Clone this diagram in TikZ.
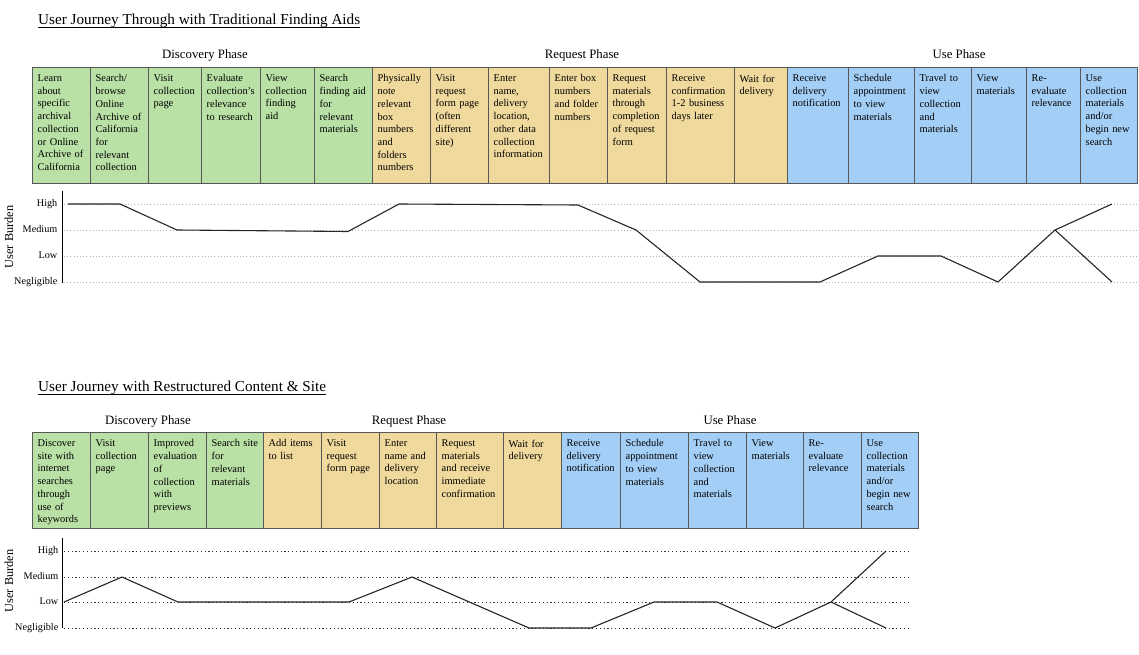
\documentclass[tikz,border=0pt]{standalone}
\usepackage{fontspec}
\setmainfont{Liberation Serif}
\usetikzlibrary{calc}
\definecolor{cgreen}{RGB}{185,224,165}
\definecolor{cyellow}{RGB}{240,217,156}
\definecolor{cblue}{RGB}{163,206,246}
\definecolor{cborder}{RGB}{88,88,88}
\definecolor{gridgray}{RGB}{175,175,175}
\newcommand\jcellfont{\fontsize{10.4}{12.7}\selectfont}
\tikzset{
  cellbox/.style={draw=cborder, line width=0.9pt, inner sep=0pt, outer sep=0pt},
  celltext/.style={inner sep=0pt, align=left, font=\jcellfont, anchor=north west},
  phaselabel/.style={inner sep=0pt, anchor=base, font=\fontsize{12.8}{14}\selectfont},
  titletext/.style={inner sep=0pt, anchor=base west, font=\fontsize{15.2}{17}\selectfont},
  levellabel/.style={inner sep=0pt, anchor=mid east, font=\fontsize{10.2}{11}\selectfont},
  burdenlabel/.style={inner sep=0pt, rotate=90, font=\fontsize{12.3}{13}\selectfont},
  axisline/.style={line width=0.9pt, black},
  gridtop/.style={gridgray, line width=0.9pt, dash pattern=on 1pt off 2.2pt},
  gridbot/.style={black!80, line width=0.9pt, dash pattern=on 1.2pt off 2.6pt},
  burden/.style={line width=1.1pt, black!85, line join=round},
}
\newcommand\jcell[7]{%
  \pgfmathsetmacro\jw{#3-#2}\pgfmathsetmacro\jh{#5-#4}\pgfmathsetmacro\jtw{#3-#2-7}%
  \node[cellbox,fill=#6,minimum width=\jw pt,minimum height=\jh pt,anchor=north west] (#1) at (#2,#4) {};
  \node[celltext,text width=\jtw pt] (#1t) at (#2+5.5,#4+7.5) {#7};
}
\begin{document}
\begin{tikzpicture}[x=1pt,y=-1pt]
\useasboundingbox[fill=white] (0,0) rectangle (1139,655);

% ---------- Top section ----------
\node[titletext] (title1) at (38,25) {User Journey Through with Traditional Finding Aids};
\draw[line width=0.8pt] ([yshift=-2.5pt]title1.base west) -- ([yshift=-2.5pt]title1.base east);

\node[phaselabel] (ph1) at (205,59) {Discovery Phase};
\node[phaselabel] (ph2) at (582,59) {Request Phase};
\node[phaselabel] (ph3) at (959,59) {Use Phase};

\jcell{a1}{32}{90}{67}{183}{cgreen}{Learn\\about\\specific\\archival\\collection\\or Online\\Archive of\\California}
\jcell{a2}{90}{148}{67}{183}{cgreen}{Search/\\browse\\Online\\Archive of\\California\\for\\relevant\\collection}
\jcell{a3}{148}{201}{67}{183}{cgreen}{Visit\\collection\\page}
\jcell{a4}{201}{260}{67}{183}{cgreen}{Evaluate\\collection’s\\relevance\\to research}
\jcell{a5}{260}{314}{67}{183}{cgreen}{View\\collection\\finding\\aid}
\jcell{a6}{314}{372}{67}{183}{cgreen}{Search\\finding aid\\for\\relevant\\materials}
\jcell{a7}{372}{430}{67}{183}{cyellow}{Physically\\note\\relevant\\box\\numbers\\and\\folders\\numbers}
\jcell{a8}{430}{488}{67}{183}{cyellow}{Visit\\request\\form page\\(often\\different\\site)}
\jcell{a9}{488}{549}{67}{183}{cyellow}{Enter\\name,\\delivery\\location,\\other data\\collection\\information}
\jcell{a10}{549}{607}{67}{183}{cyellow}{Enter box\\numbers\\and folder\\numbers}
\jcell{a11}{607}{666}{67}{183}{cyellow}{Request\\materials\\through\\completion\\of request\\form}
\jcell{a12}{666}{734}{67}{183}{cyellow}{Receive\\confirmation\\1-2 business\\days later}
\jcell{a13}{734}{787}{67}{183}{cyellow}{Wait for\\delivery}
\jcell{a14}{787}{848}{67}{183}{cblue}{Receive\\delivery\\notification}
\jcell{a15}{848}{914}{67}{183}{cblue}{Schedule\\appointment\\to view\\materials}
\jcell{a16}{914}{971}{67}{183}{cblue}{Travel to\\view\\collection\\and\\materials}
\jcell{a17}{971}{1026}{67}{183}{cblue}{View\\materials}
\jcell{a18}{1026}{1080}{67}{183}{cblue}{Re-\\evaluate\\relevance}
\jcell{a19}{1080}{1137}{67}{183}{cblue}{Use\\collection\\materials\\and/or\\begin new\\search}

% top chart
\coordinate (ax1t) at (62,191);
\coordinate (ax1b) at (62,283);
\foreach \lv/\yy in {High/204,Medium/230,Low/256,Negligible/282}{
  \node[levellabel] (l1\lv) at (57.5,\yy) {\lv};
  \coordinate (g1s\lv) at (64,\yy);
  \coordinate (g1e\lv) at (1139,\yy);
  \draw[gridtop] (g1s\lv) -- (g1e\lv);
}
\draw[axisline] (ax1t) -- (ax1b);
\node[burdenlabel] (ub1) at (9,237) {User Burden};

\coordinate (u1) at (68,204);
\coordinate (u2) at (120,204);
\coordinate (u3) at (177,230);
\coordinate (u4) at (348,231.5);
\coordinate (u5) at (399,204);
\coordinate (u6) at (578,205);
\coordinate (u7) at (636,230);
\coordinate (u8) at (700,282);
\coordinate (u9) at (820,282);
\coordinate (u10) at (878,256);
\coordinate (u11) at (941,256);
\coordinate (u12) at (998,282);
\coordinate (u13) at (1055,230);
\coordinate (u14) at (1112,204);
\coordinate (u15) at (1112,282);
\draw[burden] (u1) -- (u2) -- (u3) -- (u4) -- (u5) -- (u6) -- (u7) -- (u8) -- (u9) -- (u10) -- (u11) -- (u12) -- (u13) -- (u14);
\draw[burden] (u13) -- (u15);

% ---------- Bottom section ----------
\node[titletext] (title2) at (38,391.5) {User Journey with Restructured Content \& Site};
\draw[line width=0.8pt] ([yshift=-2.5pt]title2.base west) -- ([yshift=-2.5pt]title2.base east);

\node[phaselabel] (ph4) at (148,424) {Discovery Phase};
\node[phaselabel] (ph5) at (409,424) {Request Phase};
\node[phaselabel] (ph6) at (730,424) {Use Phase};

\jcell{b1}{32}{90}{432}{528}{cgreen}{Discover\\site with\\internet\\searches\\through\\use of\\keywords}
\jcell{b2}{90}{148}{432}{528}{cgreen}{Visit\\collection\\page}
\jcell{b3}{148}{206}{432}{528}{cgreen}{Improved\\evaluation\\of\\collection\\with\\previews}
\jcell{b4}{206}{263}{432}{528}{cgreen}{Search site\\for\\relevant\\materials}
\jcell{b5}{263}{321}{432}{528}{cyellow}{Add items\\to list}
\jcell{b6}{321}{379}{432}{528}{cyellow}{Visit\\request\\form page}
\jcell{b7}{379}{436}{432}{528}{cyellow}{Enter\\name and\\delivery\\location}
\jcell{b8}{436}{503}{432}{528}{cyellow}{Request\\materials\\and receive\\immediate\\confirmation}
\jcell{b9}{503}{561}{432}{528}{cyellow}{Wait for\\delivery}
\jcell{b10}{561}{620}{432}{528}{cblue}{Receive\\delivery\\notification}
\jcell{b11}{620}{688}{432}{528}{cblue}{Schedule\\appointment\\to view\\materials}
\jcell{b12}{688}{746}{432}{528}{cblue}{Travel to\\view\\collection\\and\\materials}
\jcell{b13}{746}{803}{432}{528}{cblue}{View\\materials}
\jcell{b14}{803}{861}{432}{528}{cblue}{Re-\\evaluate\\relevance}
\jcell{b15}{861}{918}{432}{528}{cblue}{Use\\collection\\materials\\and/or\\begin new\\search}

% bottom chart
\coordinate (ax2t) at (62,538);
\coordinate (ax2b) at (62,628);
\foreach \lv/\yy in {High/551,Medium/577,Low/602,Negligible/628}{
  \node[levellabel] (l2\lv) at (58.5,\yy) {\lv};
  \coordinate (g2s\lv) at (64,\yy);
  \coordinate (g2e\lv) at (909,\yy);
  \draw[gridbot] (g2s\lv) -- (g2e\lv);
}
\draw[axisline] (ax2t) -- (ax2b);
\node[burdenlabel] (ub2) at (9,581) {User Burden};

\coordinate (v1) at (64,602);
\coordinate (v2) at (122,577);
\coordinate (v3) at (178,602);
\coordinate (v4) at (349,602);
\coordinate (v5) at (412,577);
\coordinate (v6) at (529,628);
\coordinate (v7) at (591,628);
\coordinate (v8) at (654,602);
\coordinate (v9) at (717,602);
\coordinate (v10) at (775,628);
\coordinate (v11) at (831,602);
\coordinate (v12) at (886,551);
\coordinate (v13) at (886,628);
\draw[burden] (v1) -- (v2) -- (v3) -- (v4) -- (v5) -- (v6) -- (v7) -- (v8) -- (v9) -- (v10) -- (v11) -- (v12);
\draw[burden] (v11) -- (v13);
\end{tikzpicture}
\end{document}
